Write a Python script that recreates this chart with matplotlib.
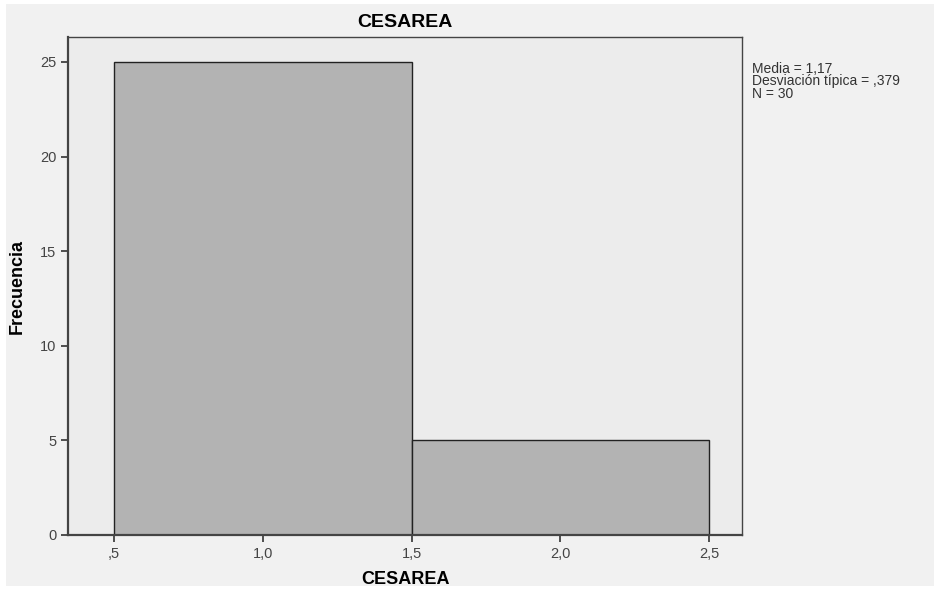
import matplotlib
matplotlib.use('Agg')
import matplotlib.pyplot as plt
from matplotlib.patches import Rectangle
import numpy as np

plt.rcParams['font.family'] = ['Liberation Sans', 'DejaVu Sans']

# datos del histograma
bordes = [0.5, 1.5, 2.5]
frecuencias = [25, 5]
xticks = [0.5, 1.0, 1.5, 2.0, 2.5]
xlabels = [',5', '1,0', '1,5', '2,0', '2,5']
yticks = [0, 5, 10, 15, 20, 25]
stats = ['Media = 1,17', 'Desviación típica = ,379', 'N = 30']

fig = plt.figure(figsize=(9.37, 5.90), dpi=100)
fig.patch.set_facecolor('white')
# fondo gris del grafico (con borde blanco)
fig.patches.append(Rectangle((6/937, 4/590), 928/937, 582/590, transform=fig.transFigure,
                             facecolor='#f1f1f1', edgecolor='none', zorder=-10))

ax = fig.add_axes([68/937, 1 - 535/590, (742 - 68)/937, (535 - 37)/590])
ax.set_facecolor('#ececec')
ax.bar(bordes[:-1], frecuencias, width=np.diff(bordes), align='edge',
       color='#b3b3b3', edgecolor='#222222', linewidth=1.0)

ax.set_xlim(0.345, 2.611)
ax.set_ylim(0, 26.32)
ax.set_xticks(xticks)
ax.set_xticklabels(xlabels)
ax.set_yticks(yticks)
ax.tick_params(direction='out', length=5, width=1.2, color='#333333', labelcolor='#444444', labelsize=10.5)
for s in ax.spines.values():
    s.set_color('#444444')
    s.set_linewidth(1.0)
ax.spines['left'].set_linewidth(1.6)
ax.spines['bottom'].set_linewidth(1.6)

ax.set_title('CESAREA', fontsize=14, fontweight='bold', pad=7)
ax.set_xlabel('CESAREA', fontsize=13, fontweight='bold', labelpad=7)
ax.set_ylabel('Frecuencia', fontsize=13, fontweight='bold', labelpad=10)

fig.text(752/937, 1 - 62/590, '\n'.join(stats), fontsize=10, color='#333333',
         va='top', ha='left', linespacing=0.85)

fig.savefig('out.png', dpi=100)
